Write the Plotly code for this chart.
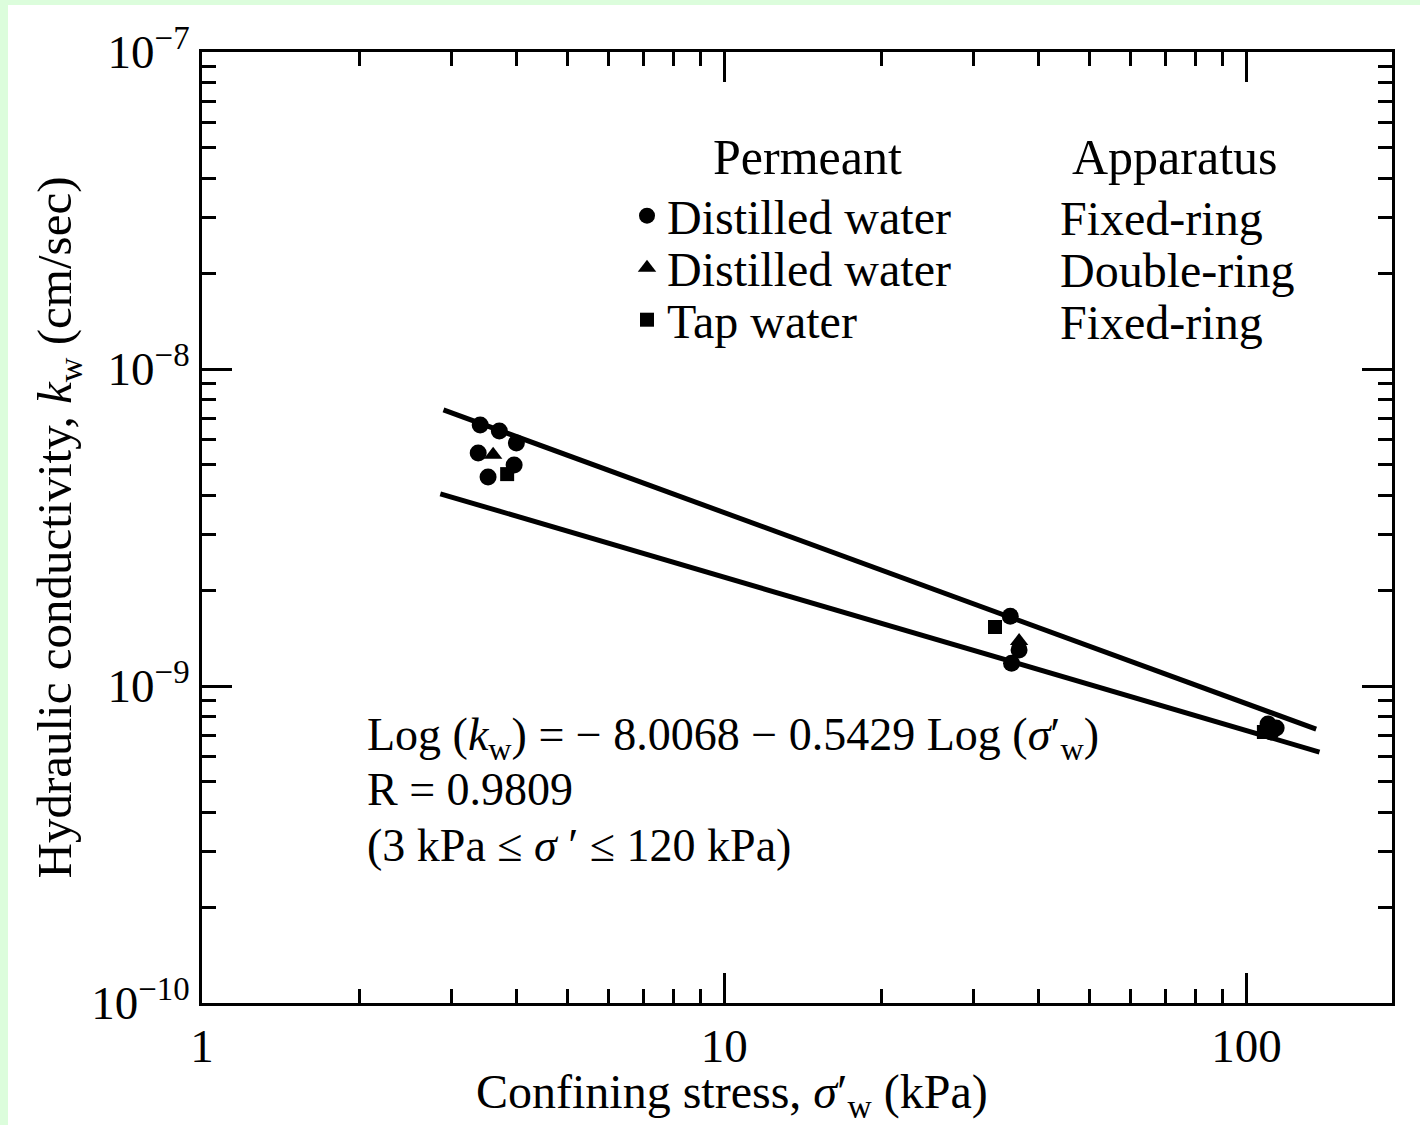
import plotly.graph_objects as go
import numpy as np

# ---- data ----
circle_x = [3.41, 3.71, 4.00, 3.38, 3.96, 3.53, 35.3, 36.7, 35.5, 110, 114, 111.6]
circle_y = [6.66e-9, 6.37e-9, 5.84e-9, 5.43e-9, 4.98e-9, 4.56e-9,
            1.66e-9, 1.30e-9, 1.18e-9, 7.59e-10, 7.37e-10, 7.16e-10]
triangle_x = [3.61, 36.7]
triangle_y = [5.36e-9, 1.387e-9]
square_x = [3.84, 33.0, 108]
square_y = [4.66e-9, 1.535e-9, 7.16e-10]

upper_line_x = [2.90, 136]
upper_line_y = [7.43e-9, 7.31e-10]
lower_line_x = [2.86, 138]
lower_line_y = [4.04e-9, 6.19e-10]

series_names = ["Distilled water", "Distilled water", "Tap water"]
apparatus = ["Fixed-ring", "Double-ring", "Fixed-ring"]

x_major = [1, 10, 100]
x_major_text = ["1", "10", "100"]
y_major = [1e-10, 1e-9, 1e-8, 1e-7]
y_major_text = ["10<sup>−10</sup>", "10<sup>−9</sup>", "10<sup>−8</sup>", "10<sup>−7</sup>"]

FONT = "Liberation Serif, Times New Roman, serif"

# plot area in pixels
L, R, T, B = 202, 1392, 52, 1003
W, H = 1420, 1125
def px(x):
    return (x - L) / (R - L)
def py(y):
    return (B - y) / (B - T)

fig = go.Figure()
for lx, ly in [(upper_line_x, upper_line_y), (lower_line_x, lower_line_y)]:
    fig.add_trace(go.Scatter(x=lx, y=ly, mode="lines", showlegend=False,
                             line=dict(color="black", width=5), hoverinfo="skip"))

fig.add_trace(go.Scatter(x=circle_x, y=circle_y, mode="markers", name=series_names[0],
                         legend="legend",
                         marker=dict(symbol="circle", size=17, color="black")))
fig.add_trace(go.Scatter(x=triangle_x, y=triangle_y, mode="markers", name=series_names[1],
                         legend="legend2",
                         marker=dict(symbol="triangle-up", size=16, color="black")))
fig.add_trace(go.Scatter(x=square_x, y=square_y, mode="markers", name=series_names[2],
                         legend="legend3",
                         marker=dict(symbol="square", size=14, color="black")))

x_minor = [v * d for d in (1, 10) for v in range(2, 10)]
y_minor = [v * d for d in (1e-10, 1e-9, 1e-8) for v in range(2, 10)]

axis_common = dict(showline=True, linecolor="black", linewidth=3, mirror="ticks",
                   ticks="inside", ticklen=30, tickwidth=2.5, tickcolor="black",
                   showgrid=False, zeroline=False, automargin=False,
                   tickfont=dict(family=FONT, size=47, color="black"))

fig.update_xaxes(type="log", range=[0, np.log10(190)], tickvals=x_major, ticktext=x_major_text,
                 minor=dict(tickvals=x_minor, ticks="inside", ticklen=14, tickwidth=2.5,
                            tickcolor="black", showgrid=False),
                 ticklabelstandoff=0,
                 **axis_common)
fig.update_yaxes(type="log", range=[-10, -7], tickvals=y_major, ticktext=y_major_text,
                 minor=dict(tickvals=y_minor, ticks="inside", ticklen=14, tickwidth=2.5,
                            tickcolor="black", showgrid=False),
                 title=dict(text="Hydraulic conductivity, <i>k</i><sub>w</sub> (cm/sec)",
                            font=dict(family=FONT, size=49, color="black"), standoff=4),
                 ticklabelstandoff=0,
                 **axis_common)

annotations = []
def ann(text, x, y, xanchor="left", size=46):
    annotations.append(dict(text=text, x=px(x), y=py(y), xref="paper", yref="paper",
                            xanchor=xanchor, yanchor="middle", showarrow=False,
                            font=dict(family=FONT, size=size, color="black")))

ann("Confining stress, <i>σ</i>′<sub>w</sub> (kPa)", 732, 1095, "center", 48)
ann("Permeant", 807, 157, "center", 50)
ann("Apparatus", 1175, 157, "center", 50)
for i, a in enumerate(apparatus):
    ann(a, 1058, 218 + 52 * i, "left", 48)

ann("Log (<i>k</i><sub>w</sub>) = − 8.0068 − 0.5429 Log (<i>σ</i>′<sub>w</sub>)", 365, 738)
ann("R = 0.9809", 365, 789)
ann("(3 kPa ≤ <i>σ</i> ′ ≤ 120 kPa)", 365, 845)

legend_style = dict(xanchor="left", yanchor="middle",
                    font=dict(family=FONT, size=48, color="black"),
                    bgcolor="rgba(0,0,0,0)", itemwidth=30)
legend_rows = [216, 268, 320]

fig.update_layout(
    width=W, height=H,
    margin=dict(l=L, r=W - R, t=T, b=H - B),
    paper_bgcolor="#DCFDDC", plot_bgcolor="white",
    annotations=annotations,
    showlegend=True,
    legend=dict(x=px(627), y=py(legend_rows[0]), **legend_style),
    legend2=dict(x=px(627), y=py(legend_rows[1]), **legend_style),
    legend3=dict(x=px(627), y=py(legend_rows[2]), **legend_style),
    shapes=[dict(type="rect", xref="paper", yref="paper",
                 x0=px(8), x1=px(W + 5), y0=py(H + 5), y1=py(5),
                 fillcolor="white", line=dict(width=0), layer="below")],
)

fig.write_html("out.html", config={"displayModeBar": False},
               post_script="document.body.style.margin='0';document.body.style.overflow='hidden';")
